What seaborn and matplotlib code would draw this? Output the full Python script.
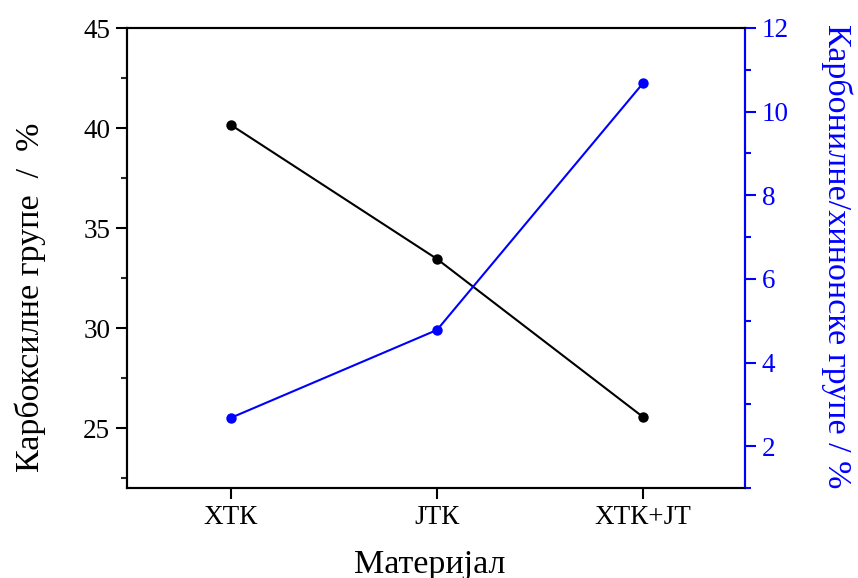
import matplotlib
matplotlib.use("Agg")
import matplotlib.pyplot as plt
from matplotlib.ticker import MultipleLocator
import seaborn as sns
import pandas as pd

materials = ["ХТК", "ЈТК", "ХТК+ЈТ"]
carboxyl = [40.15, 33.45, 25.55]
carbonyl_quinone = [2.68, 4.78, 10.68]

sns.set_theme(style="ticks")
plt.rcParams["font.family"] = ["Liberation Serif", "DejaVu Serif"]
plt.rcParams["text.color"] = "black"
plt.rcParams["axes.labelcolor"] = "black"

df = pd.DataFrame({"pos": range(len(materials)), "material": materials,
                   "carboxyl": carboxyl, "carbonyl": carbonyl_quinone})

fig = plt.figure(figsize=(8.58, 5.78), dpi=100)
ax = fig.add_axes([127 / 858, 1 - 488 / 578, (745 - 127) / 858, (488 - 28) / 578])
ax2 = ax.twinx()

sns.lineplot(data=df, x="pos", y="carboxyl", ax=ax, color="black", marker="o",
             markersize=7.5, markeredgewidth=0, linewidth=1.5)
sns.lineplot(data=df, x="pos", y="carbonyl", ax=ax2, color="blue", marker="o",
             markersize=7.5, markeredgewidth=0, linewidth=1.5)

ax.set_xlim(-0.505, 2.495)
ax.set_ylim(22, 45)
ax2.set_ylim(1, 12)

ax.set_xticks(range(len(materials)))
ax.set_xticklabels(materials)
ax.yaxis.set_major_locator(MultipleLocator(5))
ax.yaxis.set_minor_locator(MultipleLocator(2.5))
ax2.yaxis.set_major_locator(MultipleLocator(2))
ax2.yaxis.set_minor_locator(MultipleLocator(1))

for a in (ax, ax2):
    for s in a.spines.values():
        s.set_linewidth(1.5)
        s.set_color("black")
ax2.spines["right"].set_color("blue")

ax.tick_params(axis="both", which="major", direction="out", length=8, width=1.5,
               labelsize=19.5, colors="black", pad=4)
ax.tick_params(axis="y", which="minor", direction="out", length=4.5, width=1.5)
ax.tick_params(axis="x", which="minor", bottom=False)
ax2.tick_params(axis="y", which="major", direction="out", length=8, width=1.5,
                labelsize=19.5, colors="blue", pad=4)
ax2.tick_params(axis="y", which="minor", direction="out", length=4.5, width=1.5,
                colors="blue")

ax.set_xlabel("Материјал", fontsize=24.5, color="black", labelpad=14)
ax.xaxis.label.set_x(0.49)
ax.set_ylabel("Карбоксилне групе  /  %", fontsize=24.5, color="black", labelpad=27)
ax.yaxis.label.set_y(0.414)
ax2.set_ylabel("Карбонилне/хинонске групе / %", fontsize=24.5, color="blue",
               rotation=270, labelpad=46)
ax2.yaxis.label.set_y(0.505)

fig.savefig("out.png", dpi=100, facecolor="white")
